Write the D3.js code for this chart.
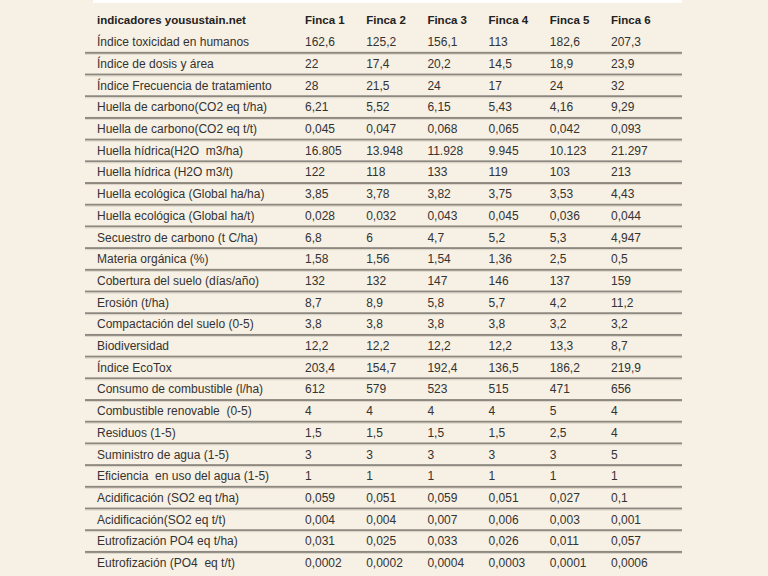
<!DOCTYPE html>
<html>
<head>
<meta charset="utf-8">
<script src="https://cdn.jsdelivr.net/npm/d3@7"></script>
<style>
  html, body { margin: 0; padding: 0; background: #f7f0e4; }
  svg { display: block; }
</style>
</head>
<body>
<svg id="table"></svg>
<script>
const title = 'indicadores yousustain.net';
const fincas = ['Finca 1', 'Finca 2', 'Finca 3', 'Finca 4', 'Finca 5', 'Finca 6'];

const indicadores = [
  'Índice toxicidad en humanos',
  'Índice de dosis y área',
  'Índice Frecuencia de tratamiento',
  'Huella de carbono(CO2 eq t/ha)',
  'Huella de carbono(CO2 eq t/t)',
  'Huella hídrica(H2O  m3/ha)',
  'Huella hídrica (H2O m3/t)',
  'Huella ecológica (Global ha/ha)',
  'Huella ecológica (Global ha/t)',
  'Secuestro de carbono (t C/ha)',
  'Materia orgánica (%)',
  'Cobertura del suelo (días/año)',
  'Erosión (t/ha)',
  'Compactación del suelo (0-5)',
  'Biodiversidad',
  'Índice EcoTox',
  'Consumo de combustible (l/ha)',
  'Combustible renovable  (0-5)',
  'Residuos (1-5)',
  'Suministro de agua (1-5)',
  'Eficiencia  en uso del agua (1-5)',
  'Acidificación (SO2 eq t/ha)',
  'Acidificación(SO2 eq t/t)',
  'Eutrofización PO4 eq t/ha)',
  'Eutrofización (PO4  eq t/t)'
];

// one array per finca, values as printed (Spanish number format)
const finca1 = ['162,6', '22', '28', '6,21', '0,045', '16.805', '122', '3,85', '0,028', '6,8', '1,58', '132', '8,7', '3,8', '12,2', '203,4', '612', '4', '1,5', '3', '1', '0,059', '0,004', '0,031', '0,0002'];
const finca2 = ['125,2', '17,4', '21,5', '5,52', '0,047', '13.948', '118', '3,78', '0,032', '6', '1,56', '132', '8,9', '3,8', '12,2', '154,7', '579', '4', '1,5', '3', '1', '0,051', '0,004', '0,025', '0,0002'];
const finca3 = ['156,1', '20,2', '24', '6,15', '0,068', '11.928', '133', '3,82', '0,043', '4,7', '1,54', '147', '5,8', '3,8', '12,2', '192,4', '523', '4', '1,5', '3', '1', '0,059', '0,007', '0,033', '0,0004'];
const finca4 = ['113', '14,5', '17', '5,43', '0,065', '9.945', '119', '3,75', '0,045', '5,2', '1,36', '146', '5,7', '3,8', '12,2', '136,5', '515', '4', '1,5', '3', '1', '0,051', '0,006', '0,026', '0,0003'];
const finca5 = ['182,6', '18,9', '24', '4,16', '0,042', '10.123', '103', '3,53', '0,036', '5,3', '2,5', '137', '4,2', '3,2', '13,3', '186,2', '471', '5', '2,5', '3', '1', '0,027', '0,003', '0,011', '0,0001'];
const finca6 = ['207,3', '23,9', '32', '9,29', '0,093', '21.297', '213', '4,43', '0,044', '4,947', '0,5', '159', '11,2', '3,2', '8,7', '219,9', '656', '4', '4', '5', '1', '0,1', '0,001', '0,057', '0,0006'];

const valores = [finca1, finca2, finca3, finca4, finca5, finca6];

const width = 768, height = 576;
const svg = d3.select('#table').attr('width', width).attr('height', height);

const rowY = d3.scaleLinear().domain([0, indicadores.length - 1]).range([42, 562.8]);
const colX = d3.scaleLinear().domain([0, fincas.length - 1]).range([305, 611]);
const labelX = 97;
const left = 85, right = 682;
const half = (rowY(1) - rowY(0)) / 2;

svg.append('rect')
  .attr('width', width).attr('height', height)
  .attr('fill', '#f7f0e4');

// white strip at the top
svg.append('rect')
  .attr('x', 93).attr('y', 0)
  .attr('width', right - 93).attr('height', 3)
  .attr('fill', '#ffffff');

// row separators (grooved look)
const rules = svg.append('g').classed('rules', true)
  .selectAll('g')
  .data(d3.range(indicadores.length - 1))
  .join('g')
  .attr('transform', (d) => `translate(0,${rowY(d) + half})`);

rules.append('rect')
  .attr('x', left).attr('y', -1)
  .attr('width', right - left).attr('height', 2)
  .attr('fill', '#8d8981');

rules.append('rect')
  .attr('x', left).attr('y', 1)
  .attr('width', right - left).attr('height', 1)
  .attr('fill', '#ddd6ca');

const font = '"Liberation Sans", Arial, sans-serif';

// header
const header = svg.append('g').classed('header', true)
  .attr('font-family', font)
  .attr('font-weight', 'bold')
  .attr('font-size', '11.5px')
  .attr('fill', '#222');

header.append('text')
  .attr('x', labelX).attr('y', 20)
  .attr('dy', '0.35em')
  .text(title);

header.selectAll('.finca')
  .data(fincas)
  .join('text')
  .classed('finca', true)
  .attr('x', (d, i) => colX(i))
  .attr('y', 20)
  .attr('dy', '0.35em')
  .text((d) => d);

// body
const body = svg.append('g').classed('body', true)
  .attr('font-family', font)
  .attr('font-size', '12px')
  .attr('fill', '#333');

const rows = body.selectAll('.row')
  .data(indicadores)
  .join('g')
  .classed('row', true)
  .attr('transform', (d, i) => `translate(0,${rowY(i)})`);

rows.append('text')
  .attr('x', labelX)
  .attr('dy', '0.35em')
  .attr('xml:space', 'preserve')
  .text((d) => d);

rows.each(function (d, i) {
  d3.select(this)
    .selectAll('.val')
    .data(valores.map((col) => col[i]))
    .join('text')
    .classed('val', true)
    .attr('x', (v, j) => colX(j))
    .attr('dy', '0.35em')
    .text((v) => v);
});
</script>
</body>
</html>
